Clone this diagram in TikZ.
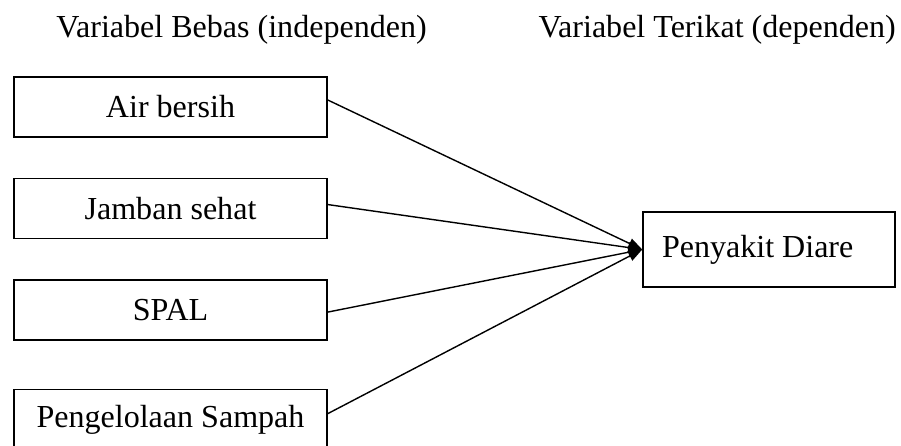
\documentclass[tikz,border=0pt]{standalone}
\usepackage{fontspec}
\setmainfont{Liberation Serif}
\usetikzlibrary{positioning, arrows.meta}

\tikzset{
	varbox/.style={draw, line width=1.1pt, minimum width=7.825cm, minimum height=1.5cm, inner sep=0pt},
	link/.style={line width=1pt, -{Triangle[length=3.5mm, width=2.6mm]}}
}

\begin{document}
\begin{tikzpicture}[node distance=1cm, font=\fontsize{22.8}{27}\selectfont]
	\useasboundingbox (0,0) rectangle (22.525,-11.15);
	\node (hbebas) at (6.04,-0.75) {Variabel Bebas (independen)};
	\node (hterikat) at (17.93,-0.75) {Variabel Terikat (dependen)};
	\node[varbox] (air) at (4.2625,-2.675) {Air bersih};
	\node[varbox, below=of air] (jamban) {Jamban sehat};
	\node[varbox, below=of jamban] (spal) {SPAL};
	\node[varbox, below=1.2cm of spal] (sampah) {Pengelolaan Sampah};
	\node[varbox, minimum width=6.3cm, minimum height=1.875cm, inner xsep=0.475cm, text width=5.35cm, align=flush left] (diare) at (19.225,-6.2375) {Penyakit Diare};
	% semua variabel bebas ke variabel terikat
	\draw[link] ([yshift=1.75mm]air.east) -- (diare.west);
	\draw[link] ([yshift=1mm]jamban.east) -- (diare.west);
	\draw[link] ([yshift=-0.5mm]spal.east) -- (diare.west);
	\draw[link] ([yshift=1.5mm]sampah.east) -- (diare.west);
\end{tikzpicture}
\end{document}
